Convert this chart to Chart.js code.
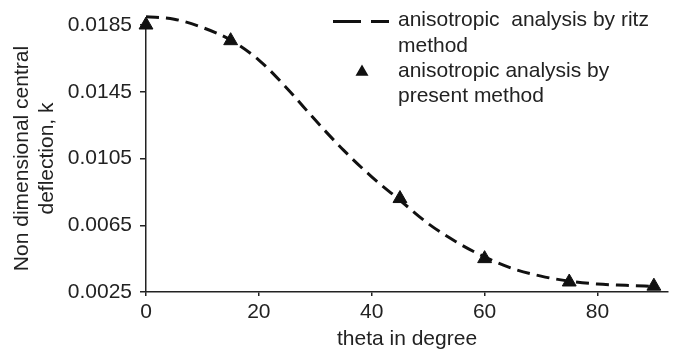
<!DOCTYPE html>
<html>
<head>
<meta charset="utf-8">
<script src="https://cdn.jsdelivr.net/npm/chart.js@4"></script>
<style>
html, body { margin: 0; padding: 0; background: #fff; }
#wrap { width: 677px; height: 352px; }
</style>
</head>
<body>
<div id="wrap"><canvas id="deflectionChart"></canvas></div>
<script>
// ritz method curve
const ritzTheta = [0, 5, 10, 15, 20, 25, 30, 35, 40, 45, 50, 55, 60, 65, 70, 75, 80, 85, 90];
const ritzK = [0.0190, 0.01885, 0.01835, 0.0176, 0.0164, 0.0147, 0.0128, 0.0110, 0.0094, 0.0080,
               0.0066, 0.0055, 0.0046, 0.0039, 0.00345, 0.00315, 0.00298, 0.0029, 0.00283];

// present method (triangles)
const presentTheta = [0, 15, 45, 60, 75, 90];
const presentK = [0.0185, 0.01756, 0.0081, 0.0045, 0.0031, 0.00285];

const xTicks = [0, 20, 40, 60, 80];
const yTicks = [0.0025, 0.0065, 0.0105, 0.0145, 0.0185];

const legendLabels = [
    ['anisotropic  analysis by ritz', 'method'],
    ['anisotropic analysis by', 'present method']
];

const ink = '#222';
const markColor = '#111';
const fontFamily = '"Liberation Sans", Arial, sans-serif';

Chart.defaults.font.family = fontFamily;
Chart.defaults.font.size = 21;
Chart.defaults.color = ink;

// legend on the right, two-line entries
const sideLegend = {
    id: 'sideLegend',
    afterDraw(chart) {
        const ctx = chart.ctx;
        ctx.save();
        ctx.font = '21px ' + fontFamily;
        ctx.fillStyle = ink;
        ctx.textBaseline = 'middle';
        ctx.textAlign = 'left';

        // dashed line sample
        ctx.strokeStyle = markColor;
        ctx.lineWidth = 3;
        ctx.setLineDash([28, 10]);
        ctx.beginPath();
        ctx.moveTo(333, 21.5);
        ctx.lineTo(389, 21.5);
        ctx.stroke();
        ctx.setLineDash([]);

        // triangle sample
        ctx.fillStyle = markColor;
        Chart.helpers.drawPoint(ctx, { pointStyle: 'triangle', radius: 4.5, borderWidth: 1, rotation: 0 }, 362, 72);

        ctx.fillStyle = ink;
        const rows = [20, 46, 71, 96];
        let r = 0;
        legendLabels.forEach(lines => {
            lines.forEach(t => {
                ctx.fillText(t, 398, rows[r]);
                r++;
            });
        });
        ctx.restore();
    }
};

const ctx = document.getElementById('deflectionChart').getContext('2d');

const chart = new Chart(ctx, {
    type: 'scatter',
    data: {
        datasets: [
            {
                label: legendLabels[0].join(' '),
                data: ritzTheta.map((t, i) => ({ x: t, y: ritzK[i] })),
                showLine: true,
                borderColor: markColor,
                borderWidth: 3,
                borderDash: [13, 7],
                pointRadius: 0,
                cubicInterpolationMode: 'monotone',
                fill: false,
                clip: false
            },
            {
                label: legendLabels[1].join(' '),
                data: presentTheta.map((t, i) => ({ x: t, y: presentK[i] })),
                showLine: false,
                pointStyle: 'triangle',
                pointRadius: 8,
                backgroundColor: markColor,
                borderColor: markColor,
                borderWidth: 1,
                clip: false
            }
        ]
    },
    options: {
        responsive: true,
        maintainAspectRatio: false,
        animation: false,
        layout: {
            padding: { top: 25, right: 5, left: 0, bottom: 0 }
        },
        plugins: {
            legend: { display: false },
            tooltip: { enabled: false }
        },
        scales: {
            x: {
                type: 'linear',
                min: 0,
                max: 92.5,
                afterBuildTicks: s => { s.ticks = xTicks.map(v => ({ value: v })); },
                afterFit: s => { s.height = 60; },
                grid: {
                    display: true,
                    drawOnChartArea: false,
                    drawTicks: true,
                    tickLength: 4,
                    color: ink,
                    lineWidth: 1.5
                },
                border: { display: true, color: ink, width: 1.5 },
                ticks: { padding: 4, maxRotation: 0, color: ink },
                title: {
                    display: true,
                    text: 'theta in degree',
                    color: ink,
                    padding: { top: 2, bottom: 0 }
                }
            },
            y: {
                type: 'linear',
                min: 0.0025,
                max: 0.0185,
                afterBuildTicks: s => { s.ticks = yTicks.map(v => ({ value: v })); },
                afterFit: s => { s.width = 146; },
                grid: {
                    display: true,
                    drawOnChartArea: false,
                    drawTicks: true,
                    tickLength: 6,
                    color: ink,
                    lineWidth: 1.5
                },
                border: { display: true, color: ink, width: 1.5 },
                ticks: {
                    padding: 8,
                    color: ink,
                    callback: v => v.toFixed(4)
                },
                title: {
                    display: true,
                    text: ['Non dimensional central', 'deflection, k'],
                    color: ink,
                    font: { size: 21, lineHeight: 25 / 21 },
                    padding: { top: 10, bottom: 0 }
                }
            }
        }
    },
    plugins: [sideLegend]
});
</script>
</body>
</html>
